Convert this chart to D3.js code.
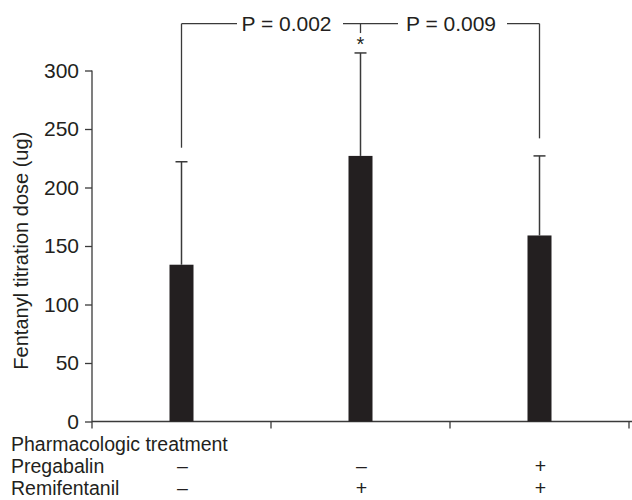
<!doctype html>
<html>
<head>
<meta charset="utf-8">
<style>
  body { margin: 0; background: #fff; }
  text { font-family: "Liberation Sans", Arial, sans-serif; fill: #231f20; }
</style>
</head>
<body>
<svg width="632" height="500"></svg>
<script src="https://cdn.jsdelivr.net/npm/d3@7"></script>
<script>
// data
var groups = ["A", "B", "C"];
var means = [134, 227, 159];
var sds = [88, 88, 68];
var yTicks = [0, 50, 100, 150, 200, 250, 300];
var pregabalin = ["–", "–", "+"];
var remifentanil = ["–", "+", "+"];
var pLabels = ["P = 0.002", "P = 0.009"];

var svg = d3.select("svg");
var ink = "#231f20", lineInk = "#3a3a3a";
var fs = "21px";

var y = d3.scaleLinear().domain([0, 300]).range([421.5, 70.5]);
var x = d3.scaleBand().domain(groups).range([92, 629]).padding(0);
var cx = function(d) { return x(d) + x.bandwidth() / 2; };

// y axis
var yAxis = svg.append("g")
    .attr("transform", "translate(92,0)")
    .call(d3.axisLeft(y).tickValues(yTicks).tickSize(7).tickSizeOuter(0).tickPadding(6));
yAxis.select(".domain").remove();
yAxis.selectAll("line").attr("stroke", lineInk).attr("stroke-width", 1.3);
yAxis.selectAll("text").style("font-size", fs).attr("fill", ink)
    .style("font-family", "'Liberation Sans', Arial, sans-serif");
svg.append("line")
    .attr("x1", 92).attr("x2", 92)
    .attr("y1", y(300)).attr("y2", y(0) + 7)
    .attr("stroke", lineInk).attr("stroke-width", 1.3);

// x axis
svg.append("line")
    .attr("x1", 92).attr("x2", 632)
    .attr("y1", y(0)).attr("y2", y(0))
    .attr("stroke", lineInk).attr("stroke-width", 1.3);
svg.selectAll(".xtick")
  .data(groups.slice(1).concat(["end"]))
  .enter().append("line")
    .attr("x1", function(d) { return d === "end" ? 629 : x(d); })
    .attr("x2", function(d) { return d === "end" ? 629 : x(d); })
    .attr("y1", y(0)).attr("y2", y(0) + 7)
    .attr("stroke", lineInk).attr("stroke-width", 1.3);

// bars
svg.selectAll(".bar")
  .data(groups)
  .enter().append("rect")
    .attr("x", function(d) { return cx(d) - 12; })
    .attr("width", 24)
    .attr("y", function(d, i) { return y(means[i]); })
    .attr("height", function(d, i) { return y(0) - y(means[i]); })
    .attr("fill", ink);

// error bars
groups.forEach(function(g, i) {
  var top = y(means[i] + sds[i]);
  svg.append("line")
      .attr("x1", cx(g)).attr("x2", cx(g))
      .attr("y1", y(means[i])).attr("y2", top)
      .attr("stroke", lineInk).attr("stroke-width", 1.5);
  svg.append("line")
      .attr("x1", cx(g) - 6).attr("x2", cx(g) + 6)
      .attr("y1", top).attr("y2", top)
      .attr("stroke", lineInk).attr("stroke-width", 1.5);
});

// significance brackets
var brTop = 340;
var drops = [234, 332, 242];
groups.forEach(function(g, i) {
  svg.append("line")
      .attr("x1", cx(g)).attr("x2", cx(g))
      .attr("y1", y(brTop)).attr("y2", y(drops[i]))
      .attr("stroke", lineInk).attr("stroke-width", 1.3);
});
var segs = [[cx("A"), 237], [343, 398], [507, cx("C")]];
segs.forEach(function(s) {
  svg.append("line")
      .attr("x1", s[0]).attr("x2", s[1])
      .attr("y1", y(brTop)).attr("y2", y(brTop))
      .attr("stroke", lineInk).attr("stroke-width", 1.3);
});
var pX = [286.5, 451];
pLabels.forEach(function(t, i) {
  svg.append("text")
      .attr("x", pX[i]).attr("y", y(brTop) + 7.5)
      .attr("text-anchor", "middle")
      .style("font-size", fs)
      .text(t);
});
svg.append("text")
    .attr("x", cx("B")).attr("y", y(317))
    .attr("text-anchor", "middle")
    .style("font-size", "20px")
    .text("*");

// y axis title
svg.append("text")
    .attr("transform", "translate(28," + y(146) + ") rotate(-90)")
    .attr("text-anchor", "middle")
    .style("font-size", "20px")
    .text("Fentanyl titration dose (ug)");

// treatment table
var tfs = "19.5px";
var rowY = [473, 495];
svg.append("text").attr("x", 11).attr("y", 451)
    .style("font-size", tfs).text("Pharmacologic treatment");
svg.append("text").attr("x", 11).attr("y", rowY[0])
    .style("font-size", tfs).text("Pregabalin");
svg.append("text").attr("x", 11).attr("y", rowY[1])
    .style("font-size", tfs).text("Remifentanil");
[pregabalin, remifentanil].forEach(function(row, r) {
  svg.selectAll(".row" + r)
    .data(row)
    .enter().append("text")
      .attr("x", function(d, i) { return cx(groups[i]) + 1; })
      .attr("y", rowY[r])
      .attr("text-anchor", "middle")
      .style("font-size", tfs)
      .text(function(d) { return d; });
});
</script>
</body>
</html>
